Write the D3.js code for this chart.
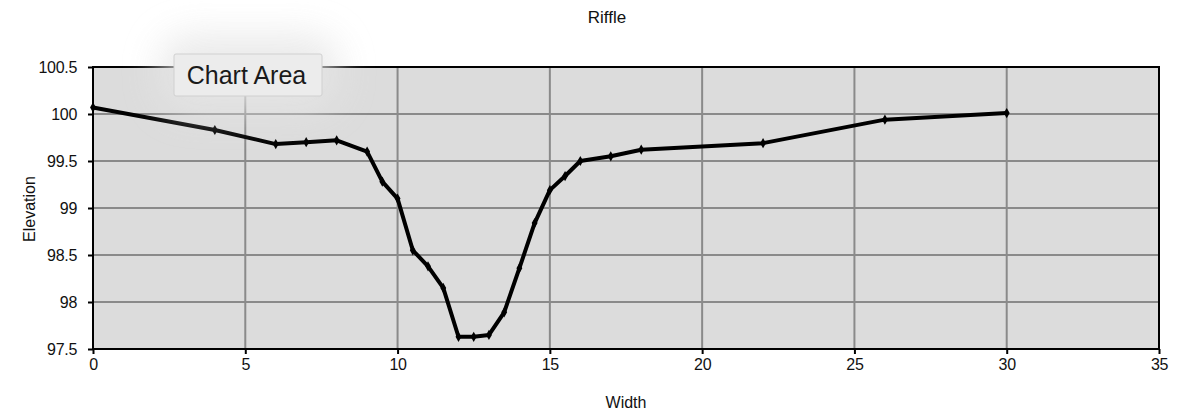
<!DOCTYPE html>
<html>
<head>
<meta charset="utf-8">
<script src="https://cdn.jsdelivr.net/npm/d3@7"></script>
<style>
  body { margin: 0; background: #fff; }
  svg { font-family: "Liberation Sans", Arial, Helvetica, sans-serif; }
</style>
</head>
<body>
<div id="chart"></div>
<script>
// survey points across the riffle
const widths = [0, 4, 6, 7, 8, 9, 9.5, 10, 10.5, 11, 11.5, 12, 12.5, 13, 13.5, 14, 14.5, 15, 15.5, 16, 17, 18, 22, 26, 30];
const elevations = [100.07, 99.83, 99.68, 99.7, 99.72, 99.6, 99.28, 99.1, 98.55, 98.38, 98.15, 97.63, 97.63, 97.65, 97.89, 98.36, 98.84, 99.19, 99.34, 99.5, 99.55, 99.62, 99.69, 99.94, 100.01];
const xTicks = [0, 5, 10, 15, 20, 25, 30, 35];
const yTicks = [97.5, 98, 98.5, 99, 99.5, 100, 100.5];

const width = 1185, height = 417;
const margin = {left: 93, right: 26, top: 67, bottom: 68};

const svg = d3.select("#chart").append("svg")
  .attr("width", width)
  .attr("height", height);

const x = d3.scaleLinear().domain([0, 35]).range([margin.left, width - margin.right]);
const y = d3.scaleLinear().domain([97.5, 100.5]).range([height - margin.bottom, margin.top]);

// plot background
svg.append("rect")
  .attr("x", x(0)).attr("y", y(100.5))
  .attr("width", x(35) - x(0)).attr("height", y(97.5) - y(100.5))
  .attr("fill", "#dcdcdc");

// grid
svg.append("g").selectAll("line").data(xTicks.slice(1, -1)).join("line")
  .attr("x1", d => x(d)).attr("x2", d => x(d))
  .attr("y1", y(100.5)).attr("y2", y(97.5))
  .attr("stroke", "#8a8a8a").attr("stroke-width", 2);
svg.append("g").selectAll("line").data(yTicks.slice(1, -1)).join("line")
  .attr("x1", x(0)).attr("x2", x(35))
  .attr("y1", d => y(d)).attr("y2", d => y(d))
  .attr("stroke", "#8a8a8a").attr("stroke-width", 2);

// axes
const xAxis = svg.append("g")
  .attr("transform", `translate(0,${y(97.5)})`)
  .call(d3.axisBottom(x).tickValues(xTicks).tickSize(5).tickPadding(5).tickFormat(d => d));
const yAxis = svg.append("g")
  .attr("transform", `translate(${x(0)},0)`)
  .call(d3.axisLeft(y).tickValues(yTicks).tickSize(5).tickPadding(11).tickFormat(d => d));
[xAxis, yAxis].forEach(a => {
  a.select(".domain").remove();
  a.selectAll("line").attr("stroke", "#000").attr("stroke-width", 2);
  a.selectAll("text").attr("fill", "#111").attr("font-size", 16).attr("letter-spacing", -0.3);
});

// frame
svg.append("rect")
  .attr("x", x(0)).attr("y", y(100.5))
  .attr("width", x(35) - x(0)).attr("height", y(97.5) - y(100.5))
  .attr("fill", "none").attr("stroke", "#000").attr("stroke-width", 2);

// profile line
const pts = widths.map((w, i) => [w, elevations[i]]);
svg.append("path")
  .datum(pts)
  .attr("fill", "none")
  .attr("stroke", "#000")
  .attr("stroke-width", 4)
  .attr("stroke-linejoin", "round")
  .attr("d", d3.line().x(d => x(d[0])).y(d => y(d[1])));

svg.append("g").selectAll("path").data(pts).join("path")
  .attr("transform", d => `translate(${x(d[0])},${y(d[1])})`)
  .attr("d", d3.symbol(d3.symbolDiamond, 30))
  .attr("fill", "#000");

// titles
svg.append("text").attr("x", 607).attr("y", 23).attr("text-anchor", "middle")
  .attr("font-size", 17).attr("fill", "#111").text("Riffle");
svg.append("text").attr("x", (x(0) + x(35)) / 2).attr("y", 408).attr("text-anchor", "middle")
  .attr("font-size", 16).attr("fill", "#111").text("Width");
svg.append("text").attr("transform", "translate(35,209) rotate(-90)").attr("text-anchor", "middle")
  .attr("font-size", 16).attr("fill", "#111").text("Elevation");

// "Chart Area" hover tooltip
const defs = svg.append("defs");
const glow = defs.append("filter").attr("id", "glow")
  .attr("x", "-60%").attr("y", "-150%").attr("width", "220%").attr("height", "400%");
glow.append("feGaussianBlur").attr("stdDeviation", 18);
svg.append("rect")
  .attr("x", 160).attr("y", 35).attr("width", 178).attr("height", 75).attr("rx", 30)
  .attr("fill", "#e6e6e6").attr("opacity", 0.85).attr("filter", "url(#glow)");
svg.append("rect")
  .attr("x", 174).attr("y", 54).attr("width", 148).attr("height", 42).attr("rx", 2)
  .attr("fill", "#ececec").attr("stroke", "#d0d0d0").attr("stroke-width", 1);
svg.append("text").attr("x", 246.5).attr("y", 84).attr("text-anchor", "middle")
  .attr("font-size", 25).attr("fill", "#1a1a1a").text("Chart Area");
</script>
</body>
</html>
